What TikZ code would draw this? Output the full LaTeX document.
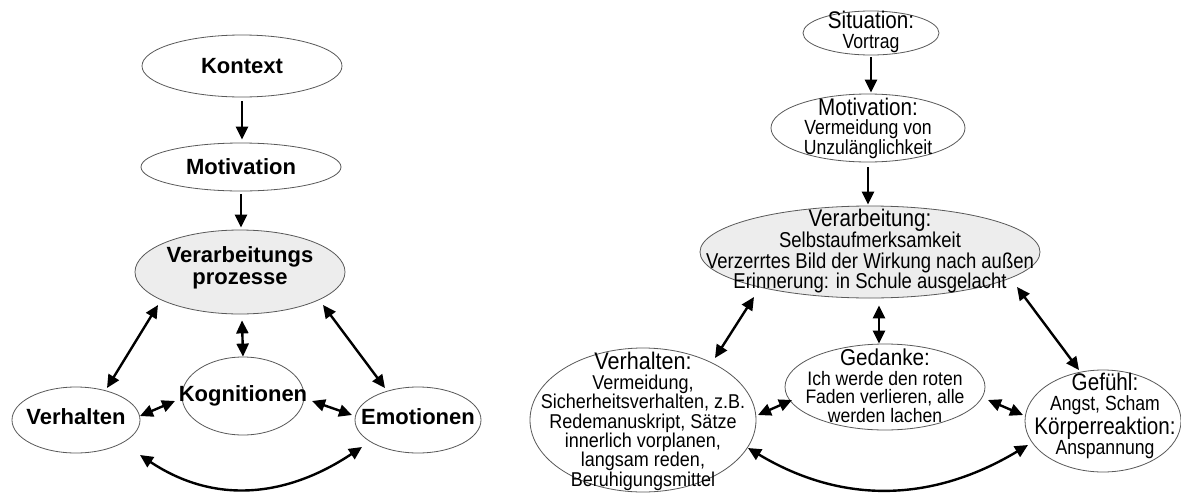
\documentclass[tikz,border=0pt]{standalone}
\usepackage{fontspec}
\setmainfont{Liberation Sans}
\newfontfamily\narrowfont[FakeStretch=0.86]{Liberation Sans}
\newfontfamily\narrowfontB[FakeStretch=0.90]{Liberation Sans}
\usetikzlibrary{shapes.geometric,arrows.meta,calc}
\newcommand\rtitle[1]{{\fontsize{24}{19}\selectfont #1}}
\tikzset{
  ell/.style={ellipse, draw=black!65, line width=0.8pt, inner sep=0pt, fill=white},
  shaded/.style={fill=black!7},
  lbl/.style={align=center, inner sep=0pt},
  ltext/.style={lbl, font=\fontsize{22}{22}\selectfont\bfseries},
  rtext/.style={lbl, font=\narrowfont\fontsize{20.5}{19.5}\selectfont},
  rtextG/.style={lbl, font=\narrowfontB\fontsize{19.5}{18.5}\selectfont},
  tipp/.tip={Triangle[length=13pt,width=12pt]},
  conn/.style={line width=2.4pt, -tipp},
  dconn/.style={line width=2.4pt, tipp-tipp},
}
\begin{document}
\begin{tikzpicture}[x=1pt,y=-1pt]
\useasboundingbox (0,0) rectangle (1181,493);
\fill[white] (0,0) rectangle (1181,493);

% ---------- left diagram ----------
\node[ell, minimum width=200pt, minimum height=62pt] (kx) at (242,66) {};
\node[ell, minimum width=200pt, minimum height=48pt] (mo) at (241,167) {};
\node[ell, shaded, minimum width=210pt, minimum height=84pt] (vp) at (240,272) {};
\node[ell, minimum width=122pt, minimum height=78pt] (kg) at (243,396) {};
\node[ell, minimum width=128pt, minimum height=66pt] (vh) at (76,420) {};
\node[ell, minimum width=126pt, minimum height=66pt] (em) at (418,420) {};

\node[ltext] (kxt) at (kx) {Kontext};
\node[ltext] (mot) at (mo) {Motivation};
\node[ltext] (vpt) at ($(vp)+(0,-4)$) {Verarbeitungs\\prozesse};
\node[ltext] (kgt) at (kg) {Kognitionen};
\node[ltext] (vht) at ($(vh)+(0,-3)$) {Verhalten};
\node[ltext] (emt) at ($(em)+(0,-3)$) {Emotionen};

\draw[conn, shorten <=4pt, shorten >=3pt] (kx.south) -- (kx.south |- mo.north);
\draw[conn, shorten <=3pt, shorten >=2pt] (mo.south) -- (mo.south |- vp.north);
\draw[dconn] ($(vp.south)+(2,6)$) -- (kg.north);
\draw[dconn] ($(vp)+(-82,33)$) -- ($(vh)+(31,-32)$);
\draw[dconn] ($(vp)+(83,33)$) -- ($(em)+(-33,-32)$);
\draw[dconn] ($(vh)+(64,-4)$) -- ($(kg)+(-68,5)$);
\draw[dconn] ($(kg)+(69,5)$) -- ($(em)+(-66,-5)$);
\draw[dconn] ($(vh)+(64,35)$) .. controls +(75,50) and +(-75,50) .. ($(em)+(-56,27)$);

% ---------- right diagram ----------
\node[ell, minimum width=136pt, minimum height=44pt] (si) at (871,33) {};
\node[ell, minimum width=194pt, minimum height=68pt] (mr) at (868,128) {};
\node[ell, shaded, minimum width=340pt, minimum height=92pt] (vb) at (870,252) {};
\node[ell, minimum width=200pt, minimum height=86pt] (gd) at (885,387) {};
\node[ell, minimum width=226pt, minimum height=144pt] (vr) at (643,420) {};
\node[ell, minimum width=156pt, minimum height=102pt] (gf) at (1103,421) {};

\node[rtext] (sit) at ($(si)+(0,-1)$) {\rtitle{Situation:}\\Vortrag};
\node[rtext] (mrt) at (mr) {\rtitle{Motivation:}\\Vermeidung von\\Unzulänglichkeit};
\node[rtext, font=\narrowfont\fontsize{21.5}{20.3}\selectfont] (vbt) at ($(vb)+(0,-1)$) {\rtitle{Verarbeitung:}\\Selbstaufmerksamkeit\\Verzerrtes Bild der Wirkung nach außen\\Erinnerung: in Schule ausgelacht};
\node[rtextG] (gdt) at ($(gd)+(0,-1)$) {{\fontsize{23}{18.5}\selectfont Gedanke:}\\[1pt]Ich werde den roten\\Faden verlieren, alle\\werden lachen};
\node[rtext, font=\narrowfontB\fontsize{20}{19.3}\selectfont] (vrt) at ($(vr)+(0,1)$) {\rtitle{Verhalten:}\\[1pt]Vermeidung,\\Sicherheitsverhalten, z.B.\\Redemanuskript, Sätze\\innerlich vorplanen,\\langsam reden,\\Beruhigungsmittel};
\node[rtext] (gft) at ($(gf)+(2,-5)$) {\rtitle{Gefühl:}\\[1pt]Angst, Scham\\[1pt]\rtitle{Körperreaktion:}\\[1pt]Anspannung};

\draw[conn, shorten <=2pt, shorten >=1pt] (si.south) -- (si.south |- mr.north);
\draw[conn, shorten <=5pt, shorten >=1pt] (mr.south) -- (mr.south |- vb.north);
\draw[dconn] ($(vb.south)+(9,7)$) -- ($(gd.north)+(-6,0)$);
\draw[dconn] ($(vb)+(-116,45)$) -- ($(vr)+(72,-62)$);
\draw[dconn] ($(vb)+(147,35)$) -- ($(gf)+(-24,-51)$);
\draw[dconn] ($(vr)+(115,-5)$) -- ($(gd)+(-93,13)$);
\draw[dconn] ($(gd)+(103,13)$) -- ($(gf)+(-80,-6)$);
\draw[dconn] ($(vr)+(105,28)$) .. controls +(95,57) and +(-95,57) .. ($(gf)+(-75,24)$);
\end{tikzpicture}
\end{document}
